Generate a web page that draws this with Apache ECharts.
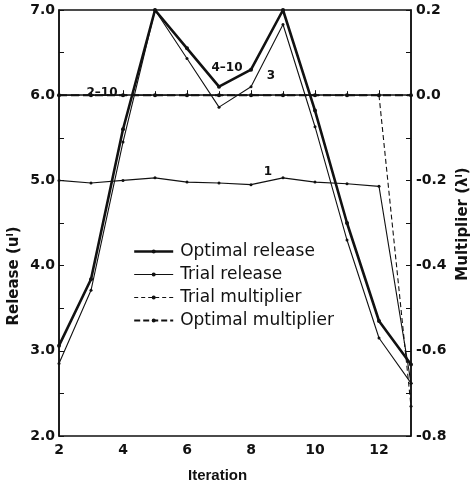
<!DOCTYPE html>
<html>
<head>
<meta charset="utf-8">
<script src="https://cdn.jsdelivr.net/npm/echarts@6/dist/echarts.min.js"></script>
<style>
html,body{margin:0;padding:0;background:#fff;}
#chart{width:474px;height:487px;}
</style>
</head>
<body>
<div id="chart"></div>
<script>
// Iterations (x axis)
var iterations = [2, 3, 4, 5, 6, 7, 8, 9, 10, 11, 12, 13];
// Release values (left axis)
var optimalRelease = [3.06, 3.84, 5.60, 7.00, 6.55, 6.10, 6.30, 7.00, 5.82, 4.50, 3.35, 2.84];
var trialRelease3 = [2.85, 3.71, 5.45, 7.00, 6.43, 5.86, 6.10, 6.83, 5.63, 4.30, 3.15, 2.62];
var trialRelease1 = [5.00, 4.97, 5.00, 5.03, 4.98, 4.97, 4.95, 5.03, 4.98, 4.96, 4.93, 2.62];
// Multiplier values (right axis)
var trialMultiplier = [0, 0, 0, 0, 0, 0, 0, 0, 0, 0, 0, -0.73];
var optimalMultiplier = [0, 0, 0, 0, 0, 0, 0, 0, 0, 0, 0, 0];
// Tick settings
var xTicks = {min: 2, max: 13, interval: 2};
var leftTicks = {min: 2, max: 7, interval: 1};
var rightTicks = {min: -0.8, max: 0.2, interval: 0.2};
var legendNames = ['Optimal release', 'Trial release', 'Trial multiplier', 'Optimal multiplier'];

function pairs(xs, ys) { return xs.map(function (x, i) { return [x, ys[i]]; }); }

var INK = '#111';
var tickFont = {color: INK, fontFamily: 'DejaVu Sans', fontWeight: 'bold', fontSize: 14};
var legendLine = {
  'Optimal release': {color: INK, width: 2.4},
  'Trial release': {color: INK, width: 1},
  'Trial multiplier': {color: INK, width: 1, type: [4, 3]},
  'Optimal multiplier': {color: INK, width: 1.8, type: [6, 3]}
};

var chart = echarts.init(document.getElementById('chart'), null, {renderer: 'canvas'});
chart.setOption({
  animation: false,
  backgroundColor: '#fff',
  grid: {left: 59, right: 63, top: 10, bottom: 51, show: true, borderColor: INK, borderWidth: 1.5, containLabel: false},
  legend: {
    orient: 'vertical', left: 128, top: 238,
    itemWidth: 39, itemHeight: 5, itemGap: 6,
    data: legendNames.map(function (n) { return {name: n, lineStyle: legendLine[n]}; }),
    textStyle: {color: INK, fontFamily: 'DejaVu Sans', fontSize: 17, lineHeight: 17, padding: [0, 0, 0, 2]},
    selectedMode: false
  },
  xAxis: {
    type: 'value', min: xTicks.min, max: xTicks.max, interval: xTicks.interval,
    axisLine: {lineStyle: {color: INK, width: 1.5}},
    axisTick: {inside: true, length: 5, lineStyle: {color: INK}},
    minorTick: {show: true, splitNumber: 2, length: 4, lineStyle: {color: INK}},
    axisLabel: Object.assign({margin: 7, showMaxLabel: false}, tickFont),
    splitLine: {show: false}
  },
  yAxis: [
    {
      type: 'value', position: 'left', min: leftTicks.min, max: leftTicks.max, interval: leftTicks.interval,
      axisLine: {show: true, lineStyle: {color: INK, width: 1.5}},
      axisTick: {show: true, inside: true, length: 5, lineStyle: {color: INK}},
      minorTick: {show: true, splitNumber: 2, length: 5, lineStyle: {color: INK}},
      axisLabel: Object.assign({margin: 4, formatter: function (v) { return v.toFixed(1); }}, tickFont),
      splitLine: {show: false}
    },
    {
      type: 'value', position: 'right', min: rightTicks.min, max: rightTicks.max, interval: rightTicks.interval,
      axisLine: {show: true, lineStyle: {color: INK, width: 1.5}},
      axisTick: {show: true, inside: true, length: 5, lineStyle: {color: INK}},
      minorTick: {show: true, splitNumber: 2, length: 5, lineStyle: {color: INK}},
      axisLabel: Object.assign({margin: 5, formatter: function (v) { return v.toFixed(1); }}, tickFont),
      splitLine: {show: false}
    }
  ],
  series: [
    {
      name: 'Optimal release', type: 'line', yAxisIndex: 0, data: pairs(iterations, optimalRelease),
      symbol: 'circle', symbolSize: 4, showSymbol: true,
      lineStyle: {color: INK, width: 2.6}, itemStyle: {color: INK}, z: 5
    },
    {
      name: 'Trial release', type: 'line', yAxisIndex: 0, data: pairs(iterations, trialRelease3),
      symbol: 'circle', symbolSize: 3,
      lineStyle: {color: INK, width: 1.1}, itemStyle: {color: INK}, z: 4
    },
    {
      name: 'Trial release', type: 'line', yAxisIndex: 0, data: pairs(iterations, trialRelease1),
      symbol: 'circle', symbolSize: 3,
      lineStyle: {color: INK, width: 1.1}, itemStyle: {color: INK}, z: 4
    },
    {
      name: 'Trial multiplier', type: 'line', yAxisIndex: 1, data: pairs(iterations, trialMultiplier),
      symbol: 'circle', symbolSize: 3,
      lineStyle: {color: INK, width: 1.1, type: [5, 3]}, itemStyle: {color: INK}, z: 3
    },
    {
      name: 'Optimal multiplier', type: 'line', yAxisIndex: 1, data: pairs(iterations, optimalMultiplier),
      symbol: 'circle', symbolSize: 4,
      lineStyle: {color: INK, width: 2, type: [8, 4]}, itemStyle: {color: INK}, z: 3
    }
  ],
  graphic: [
    {type: 'text', left: 188, top: 468, style: {text: 'Iteration', fill: INK, font: 'bold 15px "Liberation Sans"'}},
    {type: 'text', x: 14, y: 276, rotation: Math.PI / 2, style: {text: 'Release (uˡ)', fill: INK, font: 'bold 15px "DejaVu Sans"', textAlign: 'center', textVerticalAlign: 'middle'}},
    {type: 'text', x: 463, y: 224, rotation: Math.PI / 2, style: {text: 'Multiplier (λˡ)', fill: INK, font: 'bold 15px "DejaVu Sans"', textAlign: 'center', textVerticalAlign: 'middle'}},
    {type: 'text', x: 102, y: 93, style: {text: '2–10', fill: INK, font: 'bold 12px "DejaVu Sans"', textAlign: 'center', textVerticalAlign: 'middle'}},
    {type: 'text', x: 227, y: 68, style: {text: '4–10', fill: INK, font: 'bold 12px "DejaVu Sans"', textAlign: 'center', textVerticalAlign: 'middle'}},
    {type: 'text', x: 271, y: 76, style: {text: '3', fill: INK, font: 'bold 12px "DejaVu Sans"', textAlign: 'center', textVerticalAlign: 'middle'}},
    {type: 'text', x: 268, y: 172, style: {text: '1', fill: INK, font: 'bold 12px "DejaVu Sans"', textAlign: 'center', textVerticalAlign: 'middle'}}
  ]
});
</script>
</body>
</html>
